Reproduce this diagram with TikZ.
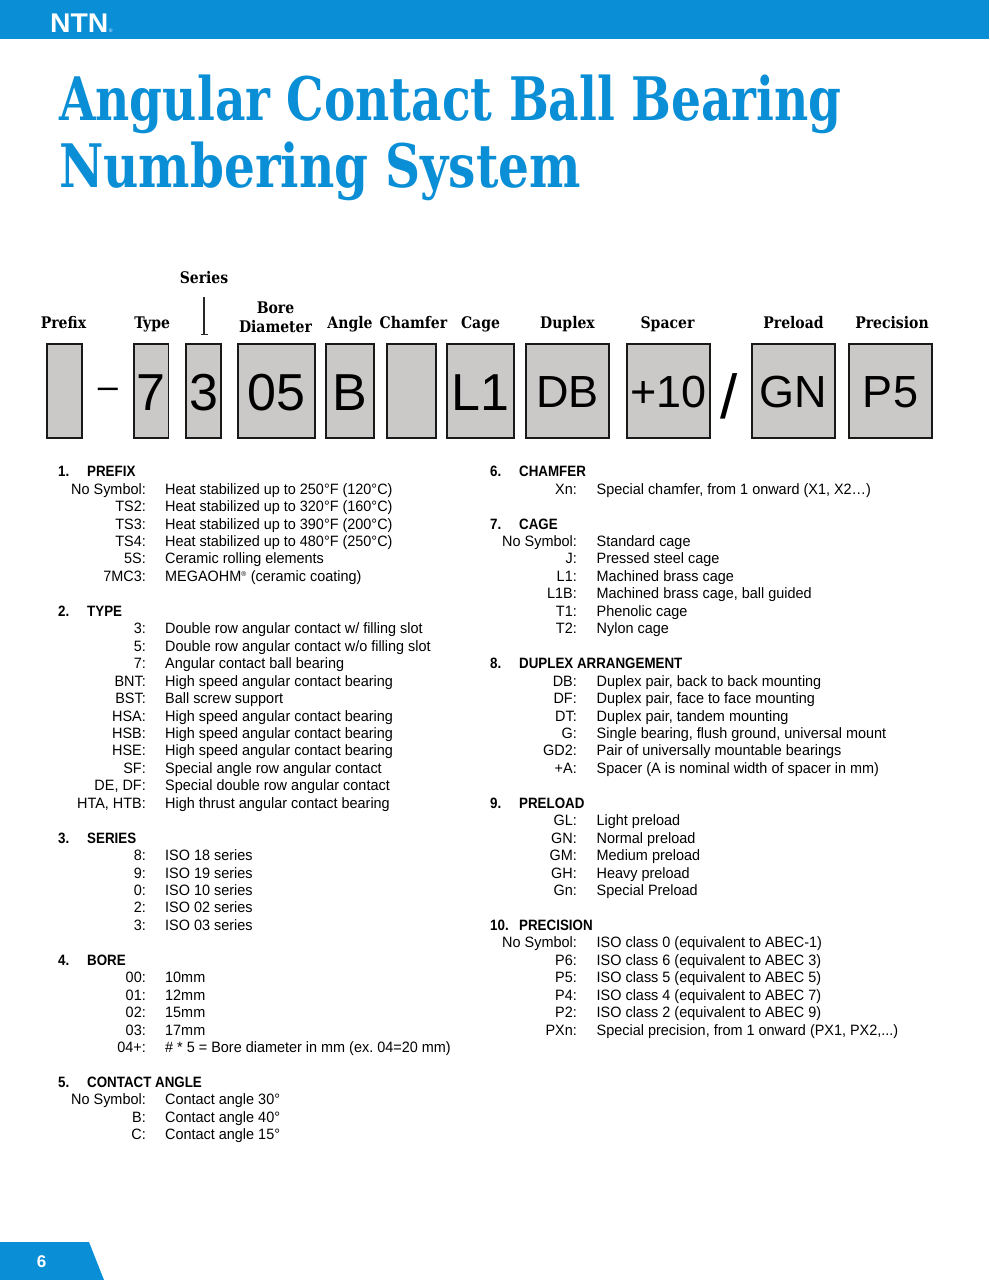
\documentclass[tikz,border=0pt]{standalone}
\usepackage{fontspec}
\usepackage{xcolor}
\usepackage{tikz}
\usetikzlibrary{arrows.meta,positioning}
\setmainfont{Liberation Sans}
\newfontfamily\titlefont[FakeStretch=0.785]{DejaVu Serif}
\newfontfamily\titlefontb[FakeStretch=0.81]{DejaVu Serif}
\newfontfamily\slabfont[FakeStretch=0.875]{DejaVu Serif}
\newfontfamily\listfont[FakeStretch=0.962]{Liberation Sans}
\newfontfamily\headfont[FakeStretch=0.89]{Liberation Sans}
\newfontfamily\logofont[FakeStretch=1.05]{Liberation Sans}
\definecolor{ntnblue}{HTML}{0A8FD6}
\definecolor{boxgray}{HTML}{CBC8C8}

\begin{document}
\begin{tikzpicture}[
    x=1pt, y=-1pt,
    node distance=10pt,
    partbox/.style={draw=black!90, fill=boxgray, line width=1.8pt, minimum height=94.2pt, inner sep=0pt, text height=38pt, text depth=0pt, font=\fontsize{52}{52}\selectfont},
    smallpart/.style={partbox, text height=32pt, font=\fontsize{45}{45}\selectfont},
    partname/.style={inner sep=0pt, align=center, text height=10pt, text depth=4pt, font=\slabfont\fontsize{16}{19}\selectfont\bfseries},
    sepmark/.style={inner sep=0pt, font=\fontsize{62}{62}\selectfont},
    titleline/.style={anchor=base west, inner sep=0pt, text=ntnblue, font=\titlefont\fontsize{60}{60}\selectfont\bfseries},
    sechead/.style={anchor=base west, inner sep=0pt, font=\headfont\fontsize{15}{15}\selectfont\bfseries},
    keytext/.style={anchor=base east, inner sep=0pt, font=\listfont\fontsize{15}{15}\selectfont},
    valtext/.style={anchor=base west, inner sep=0pt, font=\listfont\fontsize{15}{15}\selectfont},
    pointer/.style={{Bar[width=7pt,length=0pt]}-, line width=1.2pt, black!85, shorten >=9pt}
]
\useasboundingbox (0,0) rectangle (989,1280);
% page furniture
\fill[ntnblue] (0,0) rectangle (989,39);
\fill[ntnblue] (0,1242) -- (89,1242) -- (104,1280) -- (0,1280) -- cycle;
\node[anchor=base west, inner sep=0pt, text=white, font=\logofont\fontsize{27}{27}\selectfont\bfseries] (logo) at (50,32) {NTN};
\node[anchor=base west, inner sep=0pt, text=white, font=\fontsize{5}{5}\selectfont] (logomark) at (logo.base east) {®};
\node[inner sep=0pt, text=white, font=\fontsize{17}{17}\selectfont\bfseries] (pagenum) at (41.5,1262) {6};
\node[titleline] (title1) at (59,120) {Angular Contact Ball Bearing};
\node[titleline, font=\titlefontb\fontsize{60}{60}\selectfont\bfseries] (title2) at (59,187) {Numbering System};

% part number boxes
\node[partbox, minimum width=35.2pt] (prefix) at (64.5,391) {};
\node[partbox, minimum width=34.6pt] (type) at (151.2,391) {7};
\node[partbox, minimum width=35.2pt] (series) at (203.5,391) {3};
\node[partbox, minimum width=77.2pt] (bore) at (276.5,391) {05};
\node[partbox, minimum width=48.2pt] (angle) at (350,391) {B};
\node[partbox, minimum width=49.2pt] (chamfer) at (411.5,391) {};
\node[partbox, minimum width=67.2pt] (cage) at (480.5,391) {L1};
\node[smallpart, minimum width=83.2pt] (duplex) at (567.5,391) {DB};
\node[smallpart, minimum width=83.2pt] (spacer) at (668.5,391) {+10};
\node[smallpart, minimum width=83.2pt] (preload) at (793.5,391) {GN};
\node[smallpart, minimum width=83.2pt] (precision) at (890.5,391) {P5};
\node[sepmark, font=\fontsize{36}{36}\selectfont] (dash) at (108,393) {–};
\node[sepmark] (slash) at (729.5,396) {/};

% names above the boxes
\node[partname, above=of prefix, xshift=-1pt] (prefixname) {Prefix};
\node[partname, above=of type, xshift=1pt] (typename) {Type};
\node[partname, above=of bore, xshift=-1pt, yshift=-3.5pt] (borename) {Bore\\Diameter};
\node[partname, above=of angle] (anglename) {Angle};
\node[partname, above=of chamfer, xshift=2pt] (chamfername) {Chamfer};
\node[partname, above=of cage] (cagename) {Cage};
\node[partname, above=of duplex] (duplexname) {Duplex};
\node[partname, above=of spacer, xshift=-1pt] (spacername) {Spacer};
\node[partname, above=of preload] (preloadname) {Preload};
\node[partname, above=of precision, xshift=1.5pt] (precisionname) {Precision};
\node[partname, above=55pt of series, xshift=.5pt] (seriesname) {Series};
\draw[pointer] ([xshift=.5pt,yshift=8pt]series.north) -- (seriesname.south);

% left column
\node[sechead] (head1) at (58,476.7) {1.}; \node[sechead] (name1) at (87,476.7) {PREFIX};
\foreach \k/\v [count=\i] in {No Symbol/{Heat stabilized up to 250°F (120°C)}, TS2/{Heat stabilized up to 320°F (160°C)}, TS3/{Heat stabilized up to 390°F (200°C)}, TS4/{Heat stabilized up to 480°F (250°C)}, 5S/Ceramic rolling elements, 7MC3/{MEGAOHM\textsuperscript{\scriptsize®} (ceramic coating)}} {
    \node[keytext] (ka\i) at (146,{476.7+17.45*\i}) {\k:};
    \node[valtext] (va\i) at (165,{476.7+17.45*\i}) {\v};
}
\node[sechead] (head2) at (58,{476.7+17.45*8}) {2.}; \node[sechead] (name2) at (87,{476.7+17.45*8}) {TYPE};
\foreach \k/\v [count=\i] in {3/{Double row angular contact w/ filling slot}, 5/{Double row angular contact w/o filling slot}, 7/Angular contact ball bearing, BNT/High speed angular contact bearing, BST/Ball screw support, HSA/High speed angular contact bearing, HSB/High speed angular contact bearing, HSE/High speed angular contact bearing, SF/Special angle row angular contact, {DE, DF}/Special double row angular contact, {HTA, HTB}/High thrust angular contact bearing} {
    \node[keytext] (kb\i) at (146,{476.7+17.45*(8+\i)}) {\k:};
    \node[valtext] (vb\i) at (165,{476.7+17.45*(8+\i)}) {\v};
}
\node[sechead] (head3) at (58,{476.7+17.45*21}) {3.}; \node[sechead] (name3) at (87,{476.7+17.45*21}) {SERIES};
\foreach \k/\v [count=\i] in {8/ISO 18 series, 9/ISO 19 series, 0/ISO 10 series, 2/ISO 02 series, 3/ISO 03 series} {
    \node[keytext] (kc\i) at (146,{476.7+17.45*(21+\i)}) {\k:};
    \node[valtext] (vc\i) at (165,{476.7+17.45*(21+\i)}) {\v};
}
\node[sechead] (head4) at (58,{476.7+17.45*28}) {4.}; \node[sechead] (name4) at (87,{476.7+17.45*28}) {BORE};
\foreach \k/\v [count=\i] in {00/10mm, 01/12mm, 02/15mm, 03/17mm, 04+/{\# * 5 = Bore diameter in mm (ex.\ 04=20 mm)}} {
    \node[keytext] (kd\i) at (146,{476.7+17.45*(28+\i)}) {\k:};
    \node[valtext] (vd\i) at (165,{476.7+17.45*(28+\i)}) {\v};
}
\node[sechead] (head5) at (58,{476.7+17.45*35}) {5.}; \node[sechead] (name5) at (87,{476.7+17.45*35}) {CONTACT ANGLE};
\foreach \k/\v [count=\i] in {No Symbol/Contact angle 30°, B/Contact angle 40°, C/Contact angle 15°} {
    \node[keytext] (ke\i) at (146,{476.7+17.45*(35+\i)}) {\k:};
    \node[valtext] (ve\i) at (165,{476.7+17.45*(35+\i)}) {\v};
}

% right column
\node[sechead] (head6) at (490,476.7) {6.}; \node[sechead] (name6) at (519,476.7) {CHAMFER};
\node[keytext] (kf1) at (577,{476.7+17.45}) {Xn:};
\node[valtext] (vf1) at (596.5,{476.7+17.45}) {Special chamfer, from 1 onward (X1, X2…)};
\node[sechead] (head7) at (490,{476.7+17.45*3}) {7.}; \node[sechead] (name7) at (519,{476.7+17.45*3}) {CAGE};
\foreach \k/\v [count=\i] in {No Symbol/Standard cage, J/Pressed steel cage, L1/Machined brass cage, L1B/{Machined brass cage, ball guided}, T1/Phenolic cage, T2/Nylon cage} {
    \node[keytext] (kg\i) at (577,{476.7+17.45*(3+\i)}) {\k:};
    \node[valtext] (vg\i) at (596.5,{476.7+17.45*(3+\i)}) {\v};
}
\node[sechead] (head8) at (490,{476.7+17.45*11}) {8.}; \node[sechead] (name8) at (519,{476.7+17.45*11}) {DUPLEX ARRANGEMENT};
\foreach \k/\v [count=\i] in {DB/{Duplex pair, back to back mounting}, DF/{Duplex pair, face to face mounting}, DT/{Duplex pair, tandem mounting}, G/{Single bearing, flush ground, universal mount}, GD2/Pair of universally mountable bearings, +A/Spacer (A is nominal width of spacer in mm)} {
    \node[keytext] (kh\i) at (577,{476.7+17.45*(11+\i)}) {\k:};
    \node[valtext] (vh\i) at (596.5,{476.7+17.45*(11+\i)}) {\v};
}
\node[sechead] (head9) at (490,{476.7+17.45*19}) {9.}; \node[sechead] (name9) at (519,{476.7+17.45*19}) {PRELOAD};
\foreach \k/\v [count=\i] in {GL/Light preload, GN/Normal preload, GM/Medium preload, GH/Heavy preload, Gn/Special Preload} {
    \node[keytext] (ki\i) at (577,{476.7+17.45*(19+\i)}) {\k:};
    \node[valtext] (vi\i) at (596.5,{476.7+17.45*(19+\i)}) {\v};
}
\node[sechead] (head10) at (490,{476.7+17.45*26}) {10.}; \node[sechead] (name10) at (519,{476.7+17.45*26}) {PRECISION};
\foreach \k/\v [count=\i] in {No Symbol/{ISO class 0 (equivalent to ABEC-1)}, P6/{ISO class 6 (equivalent to ABEC 3)}, P5/{ISO class 5 (equivalent to ABEC 5)}, P4/{ISO class 4 (equivalent to ABEC 7)}, P2/{ISO class 2 (equivalent to ABEC 9)}, PXn/{Special precision, from 1 onward (PX1, PX2,...)}} {
    \node[keytext] (kj\i) at (577,{476.7+17.45*(26+\i)}) {\k:};
    \node[valtext] (vj\i) at (596.5,{476.7+17.45*(26+\i)}) {\v};
}
\end{tikzpicture}
\end{document}
